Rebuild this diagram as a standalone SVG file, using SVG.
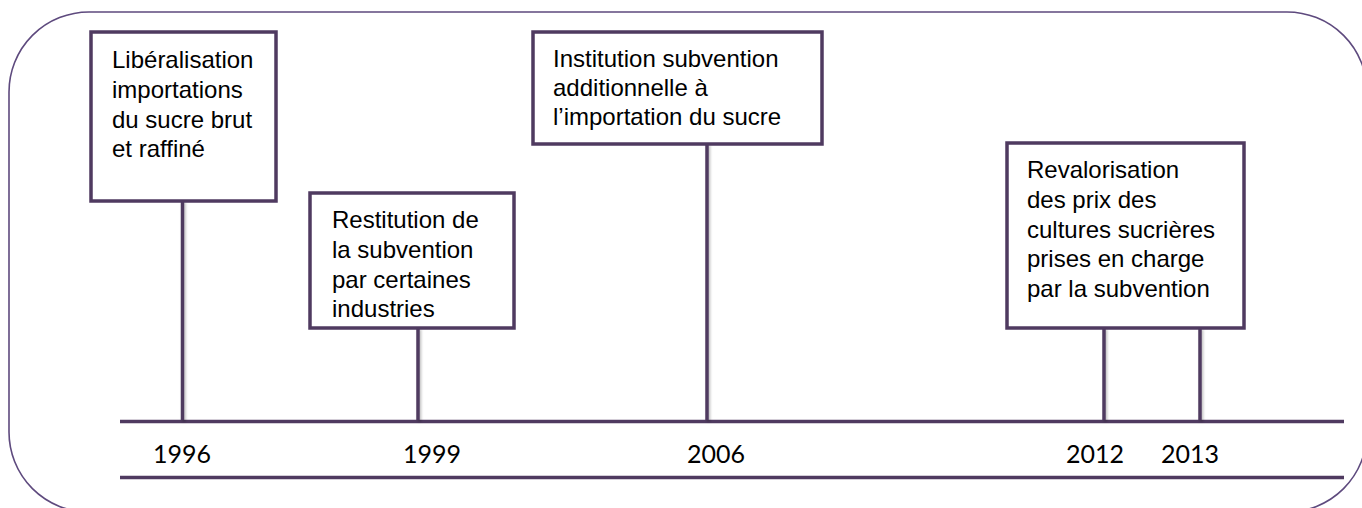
<svg xmlns="http://www.w3.org/2000/svg" width="1362" height="508" viewBox="0 0 1362 508">
  <defs>
    <filter id="sh" filterUnits="userSpaceOnUse" x="0" y="0" width="1362" height="508">
      <feDropShadow dx="1.5" dy="1.5" stdDeviation="1.2" flood-color="#000" flood-opacity="0.25"/>
    </filter>
    <style>
      .frame { fill: #ffffff; stroke: #5e4a7e; stroke-width: 1.6; }
      .box { fill: #ffffff; stroke: #4f3a60; stroke-width: 3.5; }
      .axis { stroke: #4f3a60; stroke-width: 3.5; fill: none; }
      .conn { stroke: #4f3a60; stroke-width: 3.5; fill: none; filter: url(#sh); }
      .lbl { font-family: "Liberation Sans", Arial, sans-serif; font-size: 24px; fill: #000000; }
      .yr { font-family: Lato, "Open Sans", "Liberation Sans", sans-serif; font-size: 25px; fill: #000000; }
    </style>
  </defs>
  <rect class="frame" x="9" y="12" width="1358" height="500" rx="80" ry="80"/>

  <g id="connectors">
    <line class="axis" x1="120" y1="421.5" x2="1344" y2="421.5"/>
    <line class="axis" x1="120" y1="477.5" x2="1344" y2="477.5"/>
    <line class="conn" x1="182.5" y1="201" x2="182.5" y2="420"/>
    <line class="conn" x1="418" y1="328" x2="418" y2="420"/>
    <line class="conn" x1="707" y1="144" x2="707" y2="420"/>
    <line class="conn" x1="1104" y1="328" x2="1104" y2="420"/>
    <line class="conn" x1="1200" y1="328" x2="1200" y2="420"/>
  </g>

  <g id="node-1996">
    <rect class="box" x="91" y="32" width="185" height="169"/>
    <text class="lbl" x="112" y="68">Libéralisation</text>
    <text class="lbl" x="112" y="98">importations</text>
    <text class="lbl" x="112" y="128">du sucre brut</text>
    <text class="lbl" x="112" y="157">et raffiné</text>
  </g>

  <g id="node-1999">
    <rect class="box" x="310" y="193" width="204" height="135"/>
    <text class="lbl" x="332" y="228">Restitution de</text>
    <text class="lbl" x="332" y="258">la subvention</text>
    <text class="lbl" x="332" y="288">par certaines</text>
    <text class="lbl" x="332" y="317">industries</text>
  </g>

  <g id="node-2006">
    <rect class="box" x="533" y="32" width="289" height="112"/>
    <text class="lbl" x="553" y="67">Institution subvention</text>
    <text class="lbl" x="553" y="96">additionnelle à</text>
    <text class="lbl" x="553" y="125">l’importation du sucre</text>
  </g>

  <g id="node-2012-2013">
    <rect class="box" x="1007" y="143" width="237" height="185"/>
    <text class="lbl" x="1027" y="178">Revalorisation</text>
    <text class="lbl" x="1027" y="208">des prix des</text>
    <text class="lbl" x="1027" y="238">cultures sucrières</text>
    <text class="lbl" x="1027" y="267">prises en charge</text>
    <text class="lbl" x="1027" y="297">par la subvention</text>
  </g>

  <g id="years">
    <text class="yr" x="153" y="463">1996</text>
    <text class="yr" x="403" y="463">1999</text>
    <text class="yr" x="687" y="463">2006</text>
    <text class="yr" x="1066" y="463">2012</text>
    <text class="yr" x="1161" y="463">2013</text>
  </g>
</svg>
